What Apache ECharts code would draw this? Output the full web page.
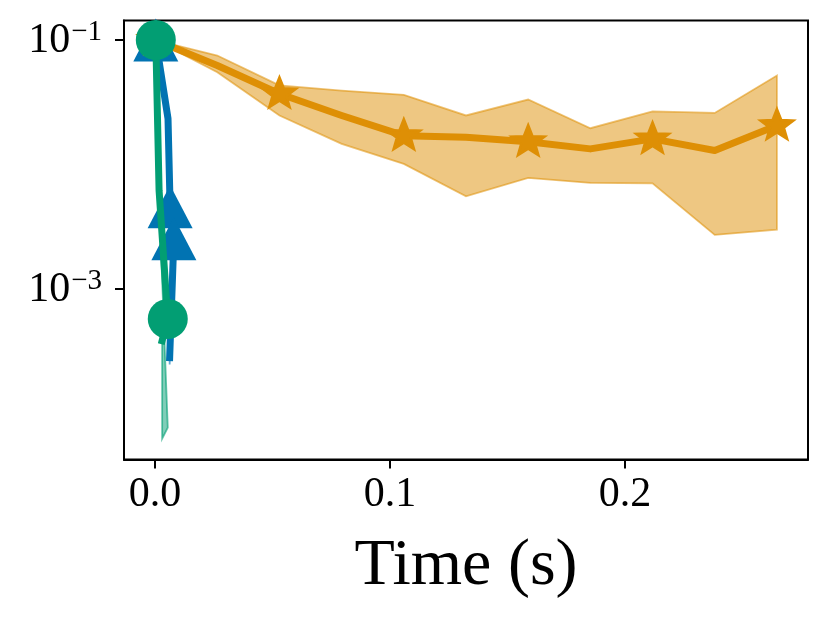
<!DOCTYPE html>
<html>
<head>
<meta charset="utf-8">
<script src="https://cdn.jsdelivr.net/npm/echarts@6/dist/echarts.min.js"></script>
<style>
html,body{margin:0;padding:0;background:#fff;}
#c{width:830px;height:617px;}
</style>
</head>
<body>
<div id="c"></div>
<script>
// ---- data ----
const blueX     = [0.0003, 0.0055, 0.0064, 0.0074, 0.0080, 0.0062];
const blueMean  = [0.1, 0.0233, 0.00456, 0.0034, 0.00252, 0.000278];
const blueUpper = [0.1, 0.026, 0.0052, 0.0040, 0.0030, 0.00032];
const blueLower = [0.1, 0.020, 0.0040, 0.0029, 0.0021, 0.000245];

const orangeX     = [0, 0.02647, 0.05294, 0.07941, 0.10588, 0.13235, 0.15882, 0.18529, 0.21176, 0.23824, 0.26471];
const orangeMean  = [0.1, 0.0624, 0.0369, 0.0247, 0.0170, 0.0165, 0.0152, 0.0133, 0.0160, 0.0129, 0.0205];
const orangeUpper = [0.1, 0.075, 0.0431, 0.0392, 0.0362, 0.0247, 0.0332, 0.0195, 0.0266, 0.0259, 0.0518];
const orangeLower = [0.1, 0.0551, 0.0247, 0.0146, 0.01007, 0.00552, 0.00776, 0.00708, 0.00703, 0.00270, 0.00298];

const greenX     = [0.0003, 0.0017, 0.0054, 0.0030];
const greenMean  = [0.1, 0.00614, 0.000569, 0.00038];
const greenUpper = [0.1, 0.0070, 0.0009, 0.0005];
const greenLower = [0.1, 0.0052, 0.000076, 0.0000618];

const xTicks = [0, 0.1, 0.2];
const yTicks = [0.1, 0.001];
const xLabel = 'Time (s)';

// ---- styling ----
const FONT = '"Liberation Serif", "DejaVu Serif", serif';
const BLUE = '#0173b2', ORANGE = '#de8f05', GREEN = '#029e73';

function starPath(inner) {
  let d = '';
  for (let k = 0; k < 10; k++) {
    const a = -Math.PI / 2 + k * Math.PI / 5;
    const r = (k % 2 === 0) ? 1 : inner;
    const px = (r * Math.cos(a) * 100).toFixed(2);
    const py = (r * Math.sin(a) * 100).toFixed(2);
    d += (k === 0 ? 'M' : 'L') + px + ',' + py;
  }
  return 'path://' + d + 'Z';
}
const STAR = starPath(0.42);

function bandSeries(xs, up, lo, fill, stroke, z) {
  return {
    type: 'custom',
    coordinateSystem: 'cartesian2d',
    silent: true,
    z: z,
    data: [[xs[0], up[0]]],
    renderItem: function (params, api) {
      const pts = [];
      for (let i = 0; i < xs.length; i++) pts.push(api.coord([xs[i], up[i]]));
      for (let i = xs.length - 1; i >= 0; i--) pts.push(api.coord([xs[i], lo[i]]));
      return {
        type: 'polygon',
        shape: { points: pts },
        style: { fill: fill, stroke: stroke, lineWidth: 1.8, lineJoin: 'miter' }
      };
    }
  };
}

function lineSeries(xs, ys, color, symbol, size, z, extra) {
  return Object.assign({
    type: 'line',
    z: z,
    data: xs.map((x, i) => ({
      value: [x, ys[i]],
      symbol: (i % 2 === 0) ? symbol : 'none'
    })),
    symbol: symbol,
    symbolSize: size,
    showSymbol: true,
    symbolKeepAspect: true,
    lineStyle: { color: color, width: 7, cap: 'square', join: 'round' },
    itemStyle: { color: color, borderColor: color, borderWidth: 0 },
    emphasis: { disabled: true },
    silent: true
  }, extra || {});
}

const chart = echarts.init(document.getElementById('c'), null, { renderer: 'canvas' });
chart.setOption({
  animation: false,
  backgroundColor: '#fff',
  grid: {
    left: 124, right: 22, top: 20.5, bottom: 157.5,
    show: true, borderColor: '#000', borderWidth: 2, backgroundColor: 'transparent'
  },
  xAxis: {
    type: 'value',
    min: -0.013235, max: 0.27794,
    splitLine: { show: false },
    axisLine: { show: true, onZero: false, lineStyle: { color: '#000', width: 2 } },
    axisTick: { show: true, inside: false, length: 9, lineStyle: { color: '#000', width: 2 }, customValues: xTicks },
    axisLabel: {
      customValues: xTicks,
      formatter: v => v.toFixed(1),
      fontFamily: FONT, fontSize: 42, color: '#000', margin: 14
    },
    name: xLabel,
    nameLocation: 'middle',
    nameGap: 74,
    nameTextStyle: { fontFamily: FONT, fontSize: 66, color: '#000' }
  },
  yAxis: {
    type: 'log',
    logBase: 10,
    min: Math.pow(10, -4.376),
    max: Math.pow(10, -0.843),
    splitLine: { show: false },
    minorTick: { show: false },
    axisLine: { show: true, onZero: false, lineStyle: { color: '#000', width: 2 } },
    axisTick: { show: true, inside: false, length: 9, lineStyle: { color: '#000', width: 2 }, customValues: yTicks },
    axisLabel: {
      customValues: yTicks,
      margin: 22,
      formatter: function (v) {
        const e = Math.round(Math.log10(v));
        return '{b|10}{s|' + (e < 0 ? '\u2212' : '') + Math.abs(e) + '}';
      },
      rich: {
        b: { fontFamily: FONT, fontSize: 42, color: '#000', lineHeight: 44, verticalAlign: 'bottom' },
        s: { fontFamily: FONT, fontSize: 29, color: '#000', lineHeight: 44, verticalAlign: 'top', padding: [0, 0, 16, 1] }
      }
    }
  },
  series: [
    bandSeries(blueX, blueUpper, blueLower, 'rgba(1,115,178,0.5)', 'rgba(1,115,178,0.6)', 2),
    lineSeries(blueX, blueMean, BLUE, 'triangle', [45, 43], 3),
    bandSeries(orangeX, orangeUpper, orangeLower, 'rgba(222,143,5,0.5)', 'rgba(222,143,5,0.55)', 4),
    lineSeries(orangeX, orangeMean, ORANGE, STAR, [33, 31.4], 5, {
      itemStyle: { color: ORANGE, borderColor: ORANGE, borderWidth: 2.5, borderJoin: 'miter' },
      symbolOffset: [0, -1.5]
    }),
    bandSeries(greenX, greenUpper, greenLower, 'rgba(2,158,115,0.5)', 'rgba(2,158,115,0.6)', 6),
    lineSeries(greenX, greenMean, GREEN, 'circle', 40, 7)
  ]
});
</script>
</body>
</html>
